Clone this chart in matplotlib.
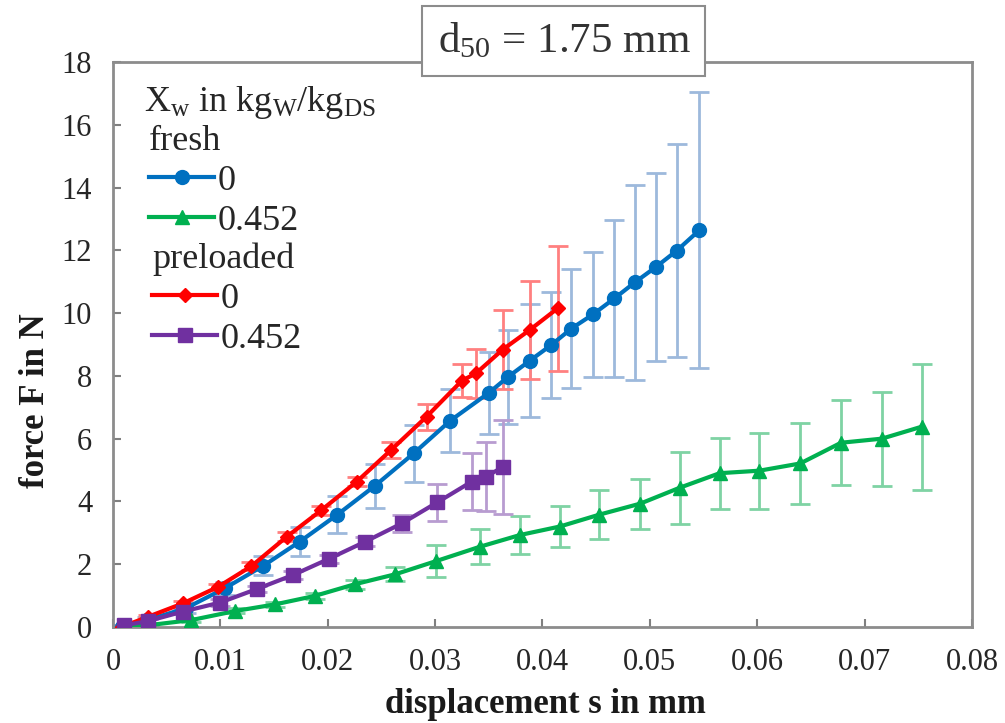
import numpy as np
import matplotlib.pyplot as plt

plt.rcParams['font.family'] = ['Liberation Serif', 'DejaVu Serif']
plt.rcParams['mathtext.fontset'] = 'custom'
plt.rcParams['mathtext.rm'] = 'Liberation Serif'
plt.rcParams['mathtext.it'] = 'Liberation Serif:italic'
plt.rcParams['mathtext.bf'] = 'Liberation Serif:bold'

# fresh sample, Xw = 0
s_fresh_0 = [0.0008, 0.0032, 0.0068, 0.0104, 0.0140, 0.0174, 0.0209, 0.0244, 0.0280, 0.0314, 0.0350,
             0.0368, 0.0388, 0.0408, 0.0427, 0.0447, 0.0467, 0.0486, 0.0506, 0.0525, 0.0546]
F_fresh_0 = [0.0, 0.22, 0.60, 1.23, 1.95, 2.72, 3.58, 4.50, 5.53, 6.57, 7.46,
             7.97, 8.48, 8.98, 9.51, 9.96, 10.47, 10.98, 11.48, 11.99, 12.64]
e_fresh_0 = [0.05, 0.1, 0.15, 0.2, 0.3, 0.45, 0.6, 0.7, 0.9, 1.0, 1.3,
             1.5, 1.8, 1.7, 1.9, 2.0, 2.5, 3.1, 3.0, 3.4, 4.4]

# fresh sample, Xw = 0.452
s_fresh_452 = [0.0008, 0.0034, 0.0073, 0.0114, 0.0151, 0.0188, 0.0225, 0.0263, 0.0301, 0.0342, 0.0379,
               0.0416, 0.0453, 0.0491, 0.0528, 0.0565, 0.0602, 0.0640, 0.0678, 0.0716, 0.0753]
F_fresh_452 = [0.0, 0.06, 0.22, 0.51, 0.72, 0.99, 1.36, 1.68, 2.10, 2.56, 2.93,
               3.20, 3.58, 3.93, 4.44, 4.90, 4.98, 5.21, 5.87, 6.00, 6.38]
e_fresh_452 = [0.02, 0.04, 0.06, 0.08, 0.08, 0.1, 0.15, 0.22, 0.5, 0.56, 0.6,
               0.66, 0.78, 0.8, 1.15, 1.13, 1.21, 1.3, 1.36, 1.5, 2.0]

# preloaded sample, Xw = 0
s_pre_0 = [0.0008, 0.0033, 0.0065, 0.0098, 0.0129, 0.0162, 0.0194, 0.0227, 0.0259, 0.0292, 0.0325,
           0.0338, 0.0363, 0.0388, 0.0414]
F_pre_0 = [0.0, 0.33, 0.75, 1.28, 1.94, 2.88, 3.72, 4.63, 5.64, 6.70, 7.85,
           8.08, 8.84, 9.46, 10.15]
e_pre_0 = [0.03, 0.05, 0.08, 0.1, 0.12, 0.15, 0.15, 0.15, 0.25, 0.42, 0.53,
           0.77, 1.25, 1.55, 2.0]

# preloaded sample, Xw = 0.452
s_pre_452 = [0.0010, 0.0033, 0.0065, 0.0100, 0.0134, 0.0168, 0.0201, 0.0235, 0.0269, 0.0302, 0.0334,
             0.0347, 0.0363]
F_pre_452 = [0.05, 0.19, 0.49, 0.78, 1.21, 1.66, 2.17, 2.72, 3.30, 3.97, 4.63,
             4.79, 5.09]
e_pre_452 = [0.02, 0.05, 0.08, 0.1, 0.1, 0.12, 0.12, 0.15, 0.28, 0.6, 0.9,
             1.1, 1.5]

fig = plt.figure(figsize=(10.05, 7.23), dpi=100)
ax = fig.add_axes([0.1124, 0.1328, 0.8548, 0.7814])

series = [
    (s_fresh_0, F_fresh_0, e_fresh_0, '#0070C0', '#9DB9DC', 'o', 10),
    (s_fresh_452, F_fresh_452, e_fresh_452, '#00B050', '#7FD3A4', '^', 10),
    (s_pre_0, F_pre_0, e_pre_0, '#FF0000', '#FF8080', 'D', 7),
    (s_pre_452, F_pre_452, e_pre_452, '#7030A0', '#B89CD0', 's', 9.5),
]
handles = []
for s, F, e, c, ec, m, ms in series:
    ax.errorbar(s, F, yerr=e, fmt='none', ecolor=ec, elinewidth=2,
                capsize=7, capthick=2, zorder=2)
    ln, = ax.plot(s, F, color=c, lw=3, marker=m, ms=ms, zorder=3)
    handles.append(ln)

ax.set_xlim(0, 0.08)
ax.set_ylim(0, 18)
ax.set_xticks(np.arange(0, 0.081, 0.01))
ax.set_xticklabels(['0', '0.01', '0.02', '0.03', '0.04', '0.05', '0.06', '0.07', '0.08'])
ax.set_yticks(np.arange(0, 19, 2))
ax.tick_params(direction='in', length=6, width=1.5, color='#808080',
               labelsize=22, labelcolor='#262626')
ax.tick_params(axis='x', pad=15)
ax.tick_params(axis='y', pad=15)
for sp in ax.spines.values():
    sp.set_color('#8c8c8c')
    sp.set_linewidth(2)

ax.set_xlabel('displacement s in mm', fontsize=25, fontweight='bold', color='#1a1a1a')
ax.set_ylabel('force F in N', fontsize=25, fontweight='bold', color='#1a1a1a')
ax.xaxis.set_label_coords(0.503, -0.108)
ax.yaxis.set_label_coords(-0.071, 0.40)

ax.text(0.525, 1.037, 'd$_{50}$ = 1.75 mm', transform=ax.transAxes, ha='center', va='center',
        fontsize=31, color='#333333', zorder=10,
        bbox=dict(boxstyle='square,pad=0.35', fc='white', ec='#8c8c8c', lw=1.5))

ax.text(0.036, 0.929, 'X$_\\mathrm{w}$ in kg$_\\mathrm{W}$/kg$_\\mathrm{DS}$', transform=ax.transAxes,
        ha='left', va='center', fontsize=26, color='#262626')

leg_kw = dict(frameon=False, fontsize=26, title_fontsize=26, alignment='left',
              handlelength=1.8, handletextpad=0.1, labelspacing=0.18, borderpad=0,
              borderaxespad=0, loc='upper left')
leg1 = ax.legend(handles[:2], ['0', '0.452'], title='fresh',
                 bbox_to_anchor=(0.042, 0.888), **leg_kw)
ax.add_artist(leg1)
leg2 = ax.legend(handles[2:], ['0', '0.452'], title='preloaded',
                 bbox_to_anchor=(0.046, 0.680), **leg_kw)
for lg in (leg1, leg2):
    lg.get_title().set_color('#262626')
    for t in lg.get_texts():
        t.set_color('#262626')

fig.savefig('out.png', dpi=100)
